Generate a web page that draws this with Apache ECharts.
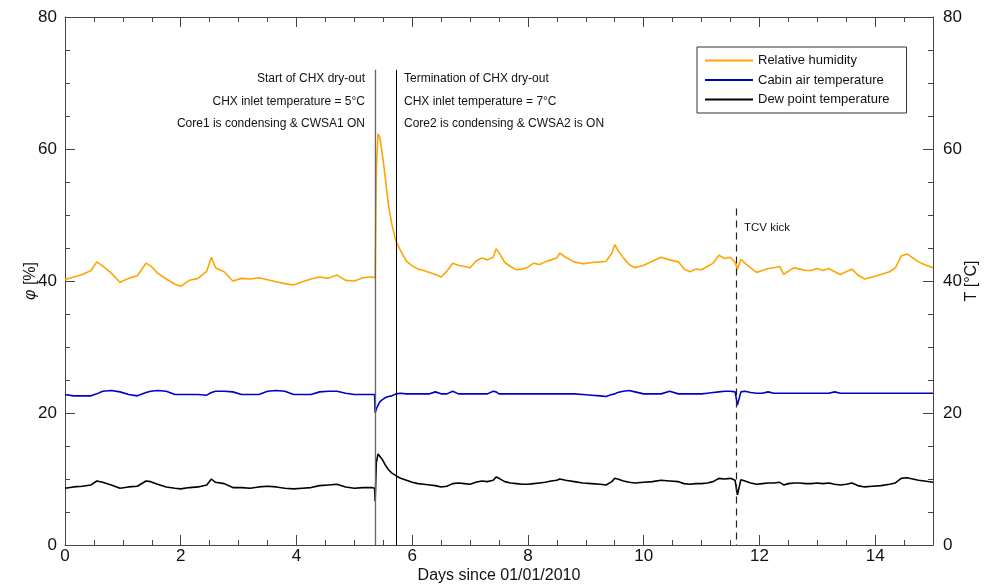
<!DOCTYPE html>
<html>
<head>
<meta charset="utf-8">
<script src="https://cdn.jsdelivr.net/npm/echarts@6/dist/echarts.min.js"></script>
<style>html,body{margin:0;padding:0;background:#fff}#c{width:984px;height:584px}</style>
</head>
<body>
<div id="c"></div>
<script>
const days = [
0,0.15,0.3,0.45,0.55,0.65,0.8,0.95,1.1,1.25,
1.4,1.48,1.6,1.75,1.9,2.0,2.15,2.3,2.45,2.53,
2.6,2.75,2.9,3.05,3.2,3.35,3.5,3.65,3.8,3.95,
4.1,4.25,4.4,4.55,4.7,4.85,5.0,5.15,5.3,5.35,
5.36,5.38,5.41,5.44,5.48,5.53,5.59,5.65,5.72,5.8,
5.9,6.0,6.1,6.2,6.3,6.4,6.5,6.6,6.7,6.8,
6.9,7.0,7.1,7.2,7.3,7.4,7.45,7.5,7.6,7.7,
7.8,7.9,8.0,8.1,8.2,8.3,8.4,8.5,8.55,8.65,
8.8,8.95,9.1,9.25,9.35,9.45,9.5,9.55,9.65,9.75,
9.85,10.0,10.15,10.3,10.45,10.6,10.7,10.8,10.9,11.0,
11.1,11.2,11.3,11.4,11.5,11.58,11.62,11.68,11.75,11.85,
11.95,12.05,12.15,12.25,12.35,12.42,12.5,12.6,12.7,12.8,
12.9,13.0,13.1,13.2,13.3,13.4,13.5,13.6,13.7,13.82,
13.95,14.1,14.25,14.35,14.45,14.55,14.65,14.75,14.85,15.0
];
const humidity = [
40.2,40.6,41.0,41.6,42.9,42.3,41.2,39.8,40.4,40.8,
42.7,42.3,41.2,40.3,39.5,39.2,40.1,40.4,41.5,43.6,
42.0,41.4,40.0,40.4,40.3,40.5,40.2,39.9,39.6,39.4,
39.9,40.3,40.6,40.4,40.9,40.1,40.0,40.5,40.6,40.5,
41.0,57.0,62.3,61.8,59.5,56.0,51.5,48.5,46.0,44.6,
43.0,42.3,41.8,41.6,41.3,41.0,40.6,41.5,42.7,42.4,
42.2,42.0,43.0,43.5,43.2,43.6,44.9,44.3,42.8,42.2,
41.7,41.8,42.1,42.7,42.5,42.9,43.2,43.5,44.2,43.6,
42.9,42.6,42.8,42.9,43.0,44.2,45.5,44.7,43.5,42.5,
42.0,42.4,43.0,43.6,43.2,42.9,41.8,41.4,41.8,41.7,
42.2,42.7,43.9,43.4,43.6,42.8,41.8,43.3,42.7,42.0,
41.3,41.6,41.9,42.0,42.2,41.0,41.5,42.0,41.8,41.6,
41.6,41.9,41.6,41.9,41.4,41.0,41.4,41.8,40.9,40.3,
40.6,41.0,41.4,42.0,43.8,44.1,43.5,42.9,42.5,42.0
];
const cabinTemp = [
22.8,22.6,22.6,22.6,22.9,23.3,23.4,23.2,22.8,22.6,
23.1,23.3,23.4,23.3,22.8,22.8,22.8,22.8,22.7,23.1,
23.3,23.3,23.2,22.8,22.8,22.8,23.3,23.4,23.3,22.8,
22.8,22.8,23.2,23.3,23.3,23.0,22.8,22.8,22.8,22.8,
20.0,20.6,21.2,21.7,22.0,22.3,22.5,22.6,22.9,23.0,
22.9,22.9,22.9,22.9,22.9,23.2,22.9,22.9,23.3,22.9,
22.9,22.9,22.9,22.9,22.9,23.3,23.2,22.9,22.9,22.9,
22.9,22.9,22.9,22.9,22.9,22.9,22.9,22.9,22.9,22.9,
22.9,22.8,22.7,22.6,22.5,22.8,22.9,23.1,23.3,23.4,
23.2,22.9,22.9,22.9,23.3,22.9,22.9,22.9,22.9,22.9,
23.0,23.1,23.2,23.3,23.3,23.2,21.2,23.2,23.3,23.1,
23.0,23.0,23.2,23.0,23.0,23.0,23.0,23.0,23.0,23.0,
23.0,23.0,23.0,23.0,23.2,23.0,23.0,23.0,23.0,23.0,
23.0,23.0,23.0,23.0,23.0,23.0,23.0,23.0,23.0,23.0
];
const dewPoint = [
8.6,8.8,8.9,9.1,9.7,9.5,9.1,8.6,8.8,8.9,
9.7,9.6,9.2,8.8,8.6,8.5,8.7,8.8,9.1,10.0,
9.5,9.3,8.7,8.7,8.6,8.8,8.9,8.8,8.6,8.5,
8.6,8.7,9.0,9.1,9.2,8.8,8.6,8.7,8.7,8.6,
6.6,12.5,13.8,13.6,13.0,12.2,11.4,10.9,10.5,10.1,
9.8,9.5,9.3,9.2,9.1,9.0,8.8,8.9,9.3,9.4,
9.3,9.2,9.5,9.7,9.6,9.8,10.3,10.1,9.6,9.4,
9.3,9.2,9.2,9.3,9.4,9.5,9.7,9.8,10.0,9.8,
9.6,9.4,9.3,9.2,9.1,9.6,10.1,10.0,9.7,9.5,
9.4,9.5,9.6,9.8,9.7,9.6,9.3,9.2,9.3,9.3,
9.4,9.6,10.1,10.0,10.1,9.8,7.6,9.9,9.7,9.4,
9.2,9.3,9.4,9.4,9.5,9.1,9.3,9.4,9.4,9.3,
9.3,9.4,9.3,9.4,9.2,9.1,9.2,9.4,9.0,8.8,
8.9,9.0,9.2,9.4,10.1,10.2,10.0,9.8,9.7,9.5
];
const seriesNames = ['Relative humidity', 'Cabin air temperature', 'Dew point temperature'];
const dryOutStart = 5.36, dryOutEnd = 5.72, tcvKick = 11.6;
const leftNotes = ['Start of CHX dry-out', 'CHX inlet temperature = 5°C', 'Core1 is condensing & CWSA1 ON'];
const rightNotes = ['Termination of CHX dry-out', 'CHX inlet temperature = 7°C', 'Core2 is condensing & CWSA2 is ON'];

const pair = arr => days.map((d, i) => [d, arr[i]]);
const FONT = 'Liberation Sans, Arial, Helvetica, sans-serif';
const axisCol = '#444';

const chart = echarts.init(document.getElementById('c'));
const noteText = (lines, x, align) => lines.map((t, i) => ({
  type: 'text', left: align === 'right' ? undefined : x, right: align === 'right' ? 984 - x : undefined,
  top: 73 + i * 22.5,
  style: { text: t, font: '12px ' + FONT, fill: '#111' }
}));
const tickCfg = { inside: true, length: 10, lineStyle: { color: axisCol } };
const minorCfg = { show: true, splitNumber: 4, length: 5, lineStyle: { color: axisCol } };
chart.setOption({
  animation: false,
  grid: { left: 65, right: 51, top: 17, bottom: 39, containLabel: false, outerBoundsMode: 'none' },
  legend: {
    data: seriesNames, orient: 'vertical', left: 697, top: 47,
    itemWidth: 48, itemHeight: 14, itemGap: 6.5, itemTextGap: 5,
    padding: [7, 17, 7, 7], borderColor: '#333', borderWidth: 1,
    itemStyle: { opacity: 0 },
    textStyle: { fontFamily: FONT, fontSize: 13, color: '#111' }
  },
  xAxis: [{
    type: 'value', min: 0, max: 15, interval: 2, position: 'bottom',
    name: 'Days since 01/01/2010', nameLocation: 'middle', nameGap: 23, nameMoveOverlap: false,
    nameTextStyle: { fontFamily: FONT, fontSize: 16, color: '#111' },
    axisLine: { show: true, lineStyle: { color: axisCol } },
    axisTick: tickCfg, minorTick: minorCfg,
    axisLabel: { margin: 3, fontFamily: FONT, fontSize: 17, color: '#111', showMaxLabel: false },
    splitLine: { show: false }
  }, {
    type: 'value', min: 0, max: 15, interval: 2, position: 'top',
    axisLine: { show: true, onZero: false, lineStyle: { color: axisCol } },
    axisTick: tickCfg, minorTick: minorCfg,
    axisLabel: { show: false }, splitLine: { show: false }
  }],
  yAxis: [{
    type: 'value', min: 0, max: 80, interval: 20, position: 'left',
    name: '{i|φ} [%]', nameLocation: 'middle', nameGap: 26, nameRotate: 90, nameMoveOverlap: false,
    nameTextStyle: { fontFamily: FONT, fontSize: 16, color: '#111', rich: { i: { fontStyle: 'italic', fontFamily: FONT, fontSize: 16 } } },
    axisLine: { show: true, onZero: false, lineStyle: { color: axisCol } },
    axisTick: tickCfg, minorTick: minorCfg,
    axisLabel: { margin: 8, fontFamily: FONT, fontSize: 17, color: '#111' },
    splitLine: { show: false }
  }, {
    type: 'value', min: 0, max: 80, interval: 20, position: 'right',
    name: 'T [°C]', nameLocation: 'middle', nameGap: 31, nameRotate: 90, nameMoveOverlap: false,
    nameTextStyle: { fontFamily: FONT, fontSize: 16, color: '#111' },
    axisLine: { show: true, onZero: false, lineStyle: { color: axisCol } },
    axisTick: tickCfg, minorTick: minorCfg,
    axisLabel: { margin: 10, fontFamily: FONT, fontSize: 17, color: '#111' },
    splitLine: { show: false }
  }],
  series: [{
    name: seriesNames[0], type: 'line', yAxisIndex: 0, data: pair(humidity),
    symbol: 'none', lineStyle: { color: '#FFA500', width: 1.6 }, itemStyle: { color: '#FFA500' },
    markLine: {
      silent: true, symbol: 'none', label: { show: false },
      data: [
        [{ coord: [dryOutStart, 72], lineStyle: { color: '#666', width: 1.3, type: 'solid' } }, { coord: [dryOutStart, 0] }],
        [{ coord: [dryOutEnd, 72], lineStyle: { color: '#000', width: 1, type: 'solid' } }, { coord: [dryOutEnd, 0] }],
        [{ coord: [tcvKick, 51], lineStyle: { color: '#222', width: 1.2, type: [7, 5] } }, { coord: [tcvKick, 0] }]
      ]
    }
  }, {
    name: seriesNames[1], type: 'line', yAxisIndex: 1, data: pair(cabinTemp),
    symbol: 'none', lineStyle: { color: '#0000CC', width: 1.6 }, itemStyle: { color: '#0000CC' }
  }, {
    name: seriesNames[2], type: 'line', yAxisIndex: 1, data: pair(dewPoint),
    symbol: 'none', lineStyle: { color: '#000', width: 1.6 }, itemStyle: { color: '#000' }
  }],
  graphic: [
    ...noteText(leftNotes, 365, 'right'),
    ...noteText(rightNotes, 404, 'left'),
    { type: 'text', left: 744, top: 222, style: { text: 'TCV kick', font: '11.5px ' + FONT, fill: '#111' } }
  ]
});
</script>
</body>
</html>
